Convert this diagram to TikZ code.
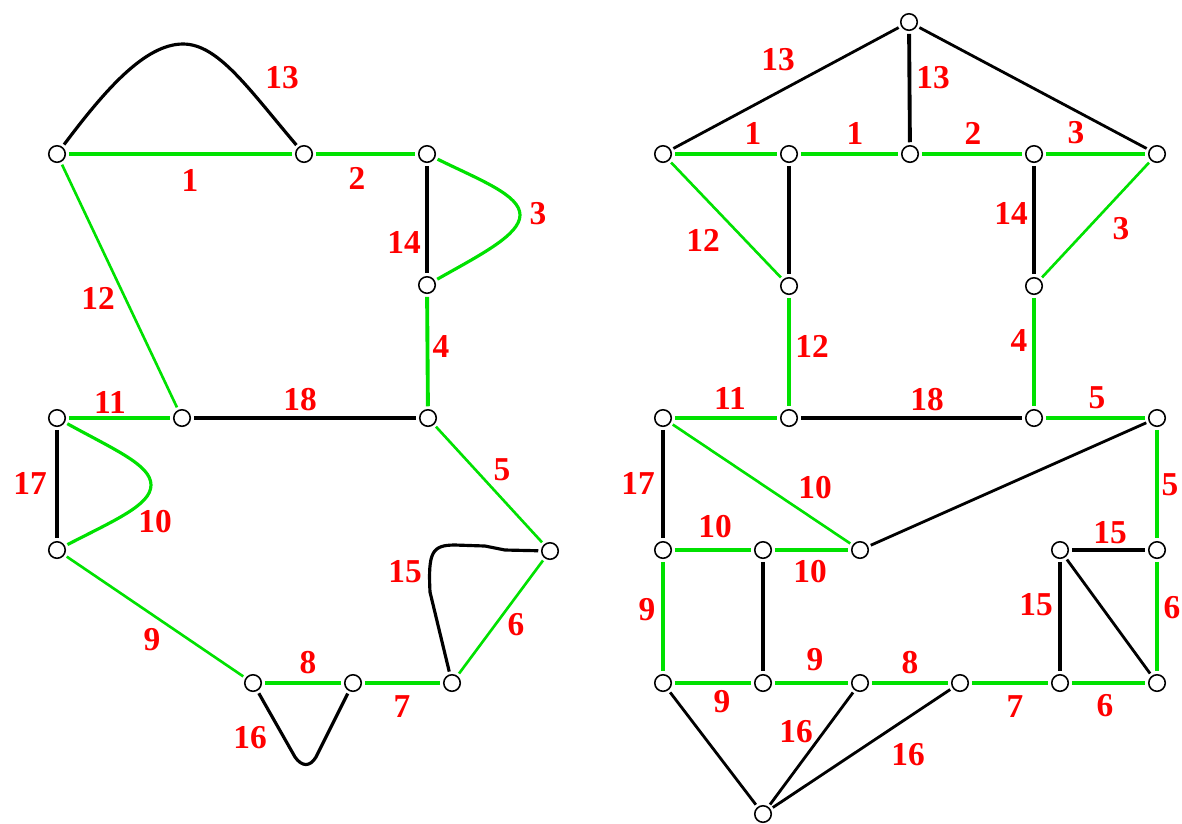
\documentclass[tikz,border=0pt]{standalone}
\usepackage{fontspec}
\setmainfont{Liberation Serif}
\usetikzlibrary{positioning}
\definecolor{treegreen}{RGB}{0,225,0}

\begin{document}
\begin{tikzpicture}[x=0.02cm,y=-0.02cm,
  vtx/.style={circle,draw,fill=white,line width=0.9pt,minimum size=0.33cm,inner sep=0pt,outer sep=2pt},
  tree/.style={treegreen,line width=2.2pt},
  treed/.style={treegreen,line width=1.5pt},
  cotree/.style={black,line width=2.2pt},
  cotreed/.style={black,line width=1.6pt},
  loopedge/.style={line width=1.8pt,line join=round},
  lab/.style={text=red,font=\fontsize{19}{19}\selectfont\bfseries,inner sep=0pt}]
  \useasboundingbox (0,0) rectangle (1182,823);
  % left graph
  \foreach \n/\x/\y in {a1/57/154,a2/304/154,a3/427/154,a4/427/285,a5/428/418,a6/182/418,
      a7/57/418,a8/57/550,a9/550/551,a10/253/683,a11/353/683,a12/452/683}
    \node[vtx] (\n) at (\x,\y) {};
  \draw[tree] (a1) -- (a2); \draw[tree] (a2) -- (a3); \draw[tree] (a4) -- (a5);
  \draw[tree] (a7) -- (a6); \draw[tree] (a10) -- (a11); \draw[tree] (a11) -- (a12);
  \draw[treed] (a1) -- (a6); \draw[treed] (a5) -- (a9); \draw[treed] (a8) -- (a10);
  \draw[treed] (a12) -- (a9);
  \draw[cotree] (a3) -- (a4); \draw[cotree] (a6) -- (a5); \draw[cotree,line width=1.9pt] (a7) -- (a8);
  \draw[treegreen,loopedge] (a3) .. controls (480,180) and (520,195) .. (520,215)
    .. controls (520,235) and (480,255) .. (a4);
  \draw[treegreen,loopedge] (a7) .. controls (115,450) and (151,465) .. (151,485)
    .. controls (151,505) and (115,520) .. (a8);
  \draw[black,loopedge] (a1) .. controls (105,90) and (145,44) .. (183,44)
    .. controls (218,44) and (248,88) .. (a2);
  \draw[black,loopedge] (a12) -- (430,592) .. controls (428,552) and (432,545) .. (455,545)
    -- (485,546) -- (505,550) -- (a9);
  \draw[black,loopedge] (a10) -- (295,757) .. controls (302,767) and (310,767) .. (316,757) -- (a11);
  % right graph
  \foreach \n/\x/\y in {b0/909/22,b1/663/154,b2/789/154,b3/910/154,b4/1034/154,b5/1157/154,
      b6/789/286,b7/1034/286,b8/663/418,b9/789/418,b10/1034/418,b11/1157/418,
      b12/663/550,b13/763/550,b14/860/550,b15/1060/550,b16/1157/550,
      b17/663/683,b18/763/683,b19/860/683,b20/960/683,b21/1060/683,b22/1157/683,b23/763/814}
    \node[vtx] (\n) at (\x,\y) {};
  \foreach \p/\q in {b1/b2,b2/b3,b3/b4,b4/b5,b6/b9,b7/b10,b8/b9,b10/b11,b12/b13,b13/b14,
      b11/b16,b12/b17,b16/b22,b17/b18,b18/b19,b19/b20,b20/b21,b21/b22}
    \draw[tree] (\p) -- (\q);
  \foreach \p/\q in {b1/b6,b5/b7,b8/b14} \draw[treed] (\p) -- (\q);
  \foreach \p/\q in {b0/b3,b2/b6,b4/b7,b9/b10,b8/b12,b15/b16,b13/b18,b15/b21}
    \draw[cotree] (\p) -- (\q);
  \foreach \p/\q in {b0/b1,b0/b5,b11/b14,b15/b22,b23/b17,b23/b19,b23/b20}
    \draw[cotreed] (\p) -- (\q);
  % labels
  \foreach \t/\x/\y [count=\i] in {13/282/78,1/190/180,2/357/178,3/538/214,14/404/242,
      12/98/298,4/441/346,11/110/402,18/300/400,17/30/483,10/155/522,5/502/470,
      15/405/572,9/152/640,6/516/625,8/308/663,7/402/707,16/250/738}
    \node[lab] (la\i) at (\x,\y) {\t};
  \foreach \t/\x/\y [count=\i] in {13/778/60,13/933/78,1/753/133,1/855/133,2/973/133,
      3/1076/133,12/703/240,14/1011/213,3/1121/229,12/812/346,4/1019/340,11/730/398,
      18/927/400,5/1097/398,17/638/483,10/815/488,5/1170/485,10/715/527,10/810/572,
      15/1110/533,9/647/610,15/1036/605,6/1172/608,9/815/660,8/910/663,9/722/702,
      7/1015/707,6/1105/706,16/796/732,16/908/755}
    \node[lab] (lb\i) at (\x,\y) {\t};
\end{tikzpicture}
\end{document}
